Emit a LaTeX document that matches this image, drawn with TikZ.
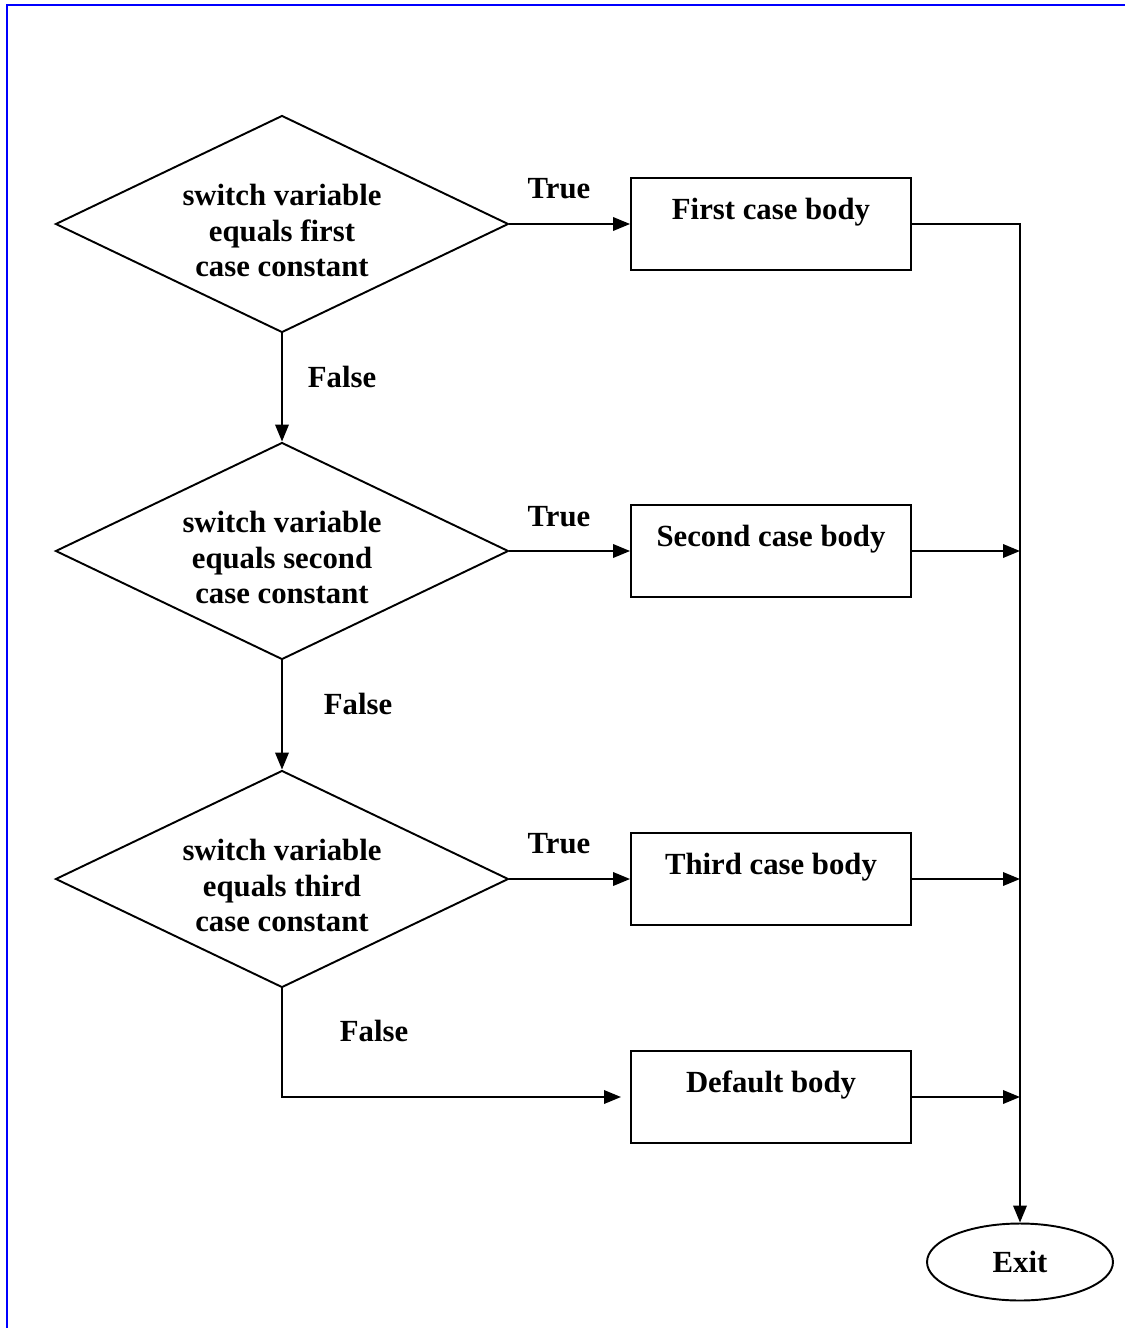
\documentclass[tikz,border=0pt]{standalone}
\usepackage{fontspec}
\setmainfont{Liberation Serif}
\usetikzlibrary{shapes.geometric,arrows.meta}

\newcommand{\tallline}{\rule{0pt}{0.69cm}}

\tikzset{
  test/.style={diamond, draw=black, line width=1.1pt, aspect=2, minimum width=9.06cm,
    minimum height=4.34cm, inner sep=0pt, align=center},
  casebox/.style={rectangle, draw=black, line width=1.1pt, minimum width=5.6cm,
    minimum height=1.84cm, text height=0.45cm, text depth=0.65cm},
  endcap/.style={ellipse, draw=black, line width=1.1pt, minimum width=3.72cm, minimum height=1.54cm},
  flow/.style={draw=black, line width=1.1pt, -{Triangle[length=0.34cm,width=0.27cm]}},
  wire/.style={draw=black, line width=1.1pt}
}

\begin{document}
\begin{tikzpicture}[x=0.02cm, y=-0.02cm, font=\fontsize{17.5}{20.2}\selectfont\bfseries]
\useasboundingbox (0,0) rectangle (1125,1328);
\draw[blue, line width=1.3pt] (7,1328)--(7,5)--(1125,5);
\node[test] (first) at (282,224) {\tallline switch variable\\equals first\\case constant};
\node[test] (second) at (282,551) {\tallline switch variable\\equals second\\case constant};
\node[test] (third) at (282,879) {\tallline switch variable\\equals third\\case constant};
\node[casebox] (body1) at (771,224) {First case body};
\node[casebox] (body2) at (771,551) {Second case body};
\node[casebox] (body3) at (771,879) {Third case body};
\node[casebox] (dflt) at (771,1097) {Default body};
\node[endcap] (exit) at (1020,1262) {Exit};
\node (true1) at (559,189) {True};
\node (true2) at (559,517) {True};
\node (true3) at (559,844) {True};
\node (false1) at (342,377) {False};
\node (false2) at (358,704) {False};
\node (false3) at (374,1031) {False};
\coordinate (join) at (1020,224);
\coordinate (dfltin) at (621,1097);
\draw[flow] (first.east)--(body1.west);
\draw[flow] (second.east)--(body2.west);
\draw[flow] (third.east)--(body3.west);
\draw[flow] (first.south)--(second.north);
\draw[flow] (second.south)--(third.north);
\draw[flow] (third.south)|-(dfltin);
\draw[flow] (body1.east)--(join)--(exit.north);
\draw[flow] (body2.east)--(body2.east-|join);
\draw[flow] (body3.east)--(body3.east-|join);
\draw[flow] (dflt.east)--(dflt.east-|join);
\end{tikzpicture}
\end{document}
